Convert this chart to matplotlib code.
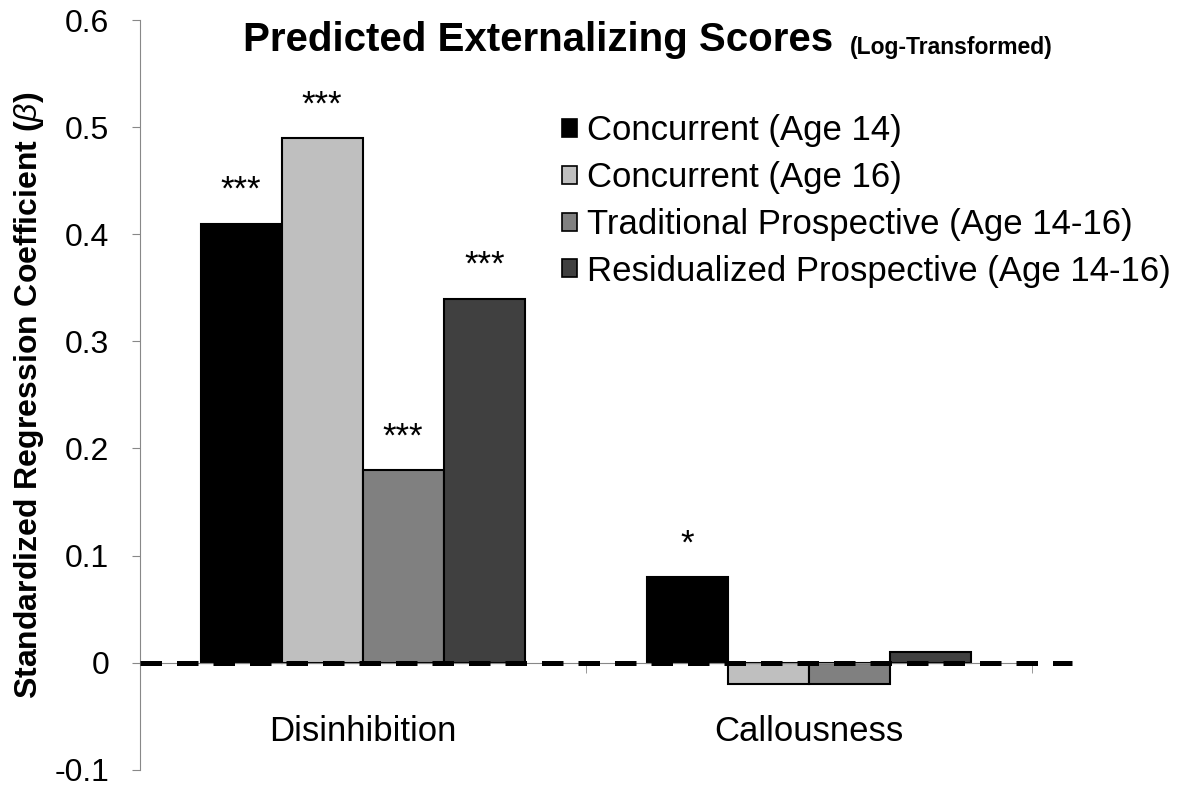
import matplotlib
matplotlib.use("Agg")
import matplotlib.pyplot as plt
import numpy as np
from matplotlib.patches import Patch

categories = ["Disinhibition", "Callousness"]
series_names = ["Concurrent (Age 14)", "Concurrent (Age 16)",
                "Traditional Prospective (Age 14-16)", "Residualized Prospective (Age 14-16)"]
concurrent_14 = [0.41, 0.08]
concurrent_16 = [0.49, -0.02]
traditional = [0.18, -0.02]
residualized = [0.34, 0.01]
stars_14 = ["***", "*"]
stars_16 = ["***", ""]
stars_trad = ["***", ""]
stars_resid = ["***", ""]
yticks = [-0.1, 0, 0.1, 0.2, 0.3, 0.4, 0.5, 0.6]
ytick_labels = ["-0.1", "0", "0.1", "0.2", "0.3", "0.4", "0.5", "0.6"]

colors = ["#000000", "#BFBFBF", "#808080", "#404040"]
values = [concurrent_14, concurrent_16, traditional, residualized]
stars = [stars_14, stars_16, stars_trad, stars_resid]

plt.rcParams['font.family'] = ['Liberation Sans', 'DejaVu Sans']
plt.rcParams['mathtext.fontset'] = 'custom'
plt.rcParams['mathtext.rm'] = 'Liberation Sans'
plt.rcParams['mathtext.it'] = 'Liberation Sans:italic'
plt.rcParams['mathtext.bf'] = 'Liberation Sans:bold'

fig = plt.figure(figsize=(11.83, 7.92), dpi=100)
ax = fig.add_axes([0.118, 0.028, 0.792, 0.9467])

x = np.arange(len(categories))
w = 0.1816
for i, (vals, c, st) in enumerate(zip(values, colors, stars)):
    pos = x + (i - 1.5) * w
    bars = ax.bar(pos, vals, width=w, color=c, edgecolor="black", linewidth=1.5,
                  label=series_names[i], zorder=2)
    for b, v, s in zip(bars, vals, st):
        if s:
            ax.annotate(s, xy=(b.get_x() + b.get_width() / 2, v), xytext=(0, 12),
                        textcoords="offset points", ha="center", va="bottom",
                        fontsize=25)

ax.set_xlim(-0.5, 1.6)
ax.set_ylim(-0.1, 0.6)
ax.set_yticks(yticks)
ax.set_yticklabels(ytick_labels, fontsize=23)
ax.tick_params(axis="y", direction="out", length=6, color="#888888", pad=16)

for s in ["top", "right"]:
    ax.spines[s].set_visible(False)
ax.spines["left"].set_color("#888888")
ax.spines["bottom"].set_position(("data", 0))
ax.spines["bottom"].set_bounds(-0.5, 1.5)
ax.spines["bottom"].set_color("#888888")

ax.set_xticks(x)
ax.set_xticklabels(categories, fontsize=25)
ax.tick_params(axis="x", length=0, pad=38)
ax.set_xticks([0.5, 1.5], minor=True)
ax.tick_params(axis="x", which="minor", direction="out", length=7, color="#888888")

ax.plot([-0.5, 1.59], [0, 0], color="black", lw=3.6, linestyle=(0, (4.3, 3.0)), zorder=3)

ax.set_ylabel(r"Standardized Regression Coefficient ($\it{\beta}$)", fontsize=23,
              fontweight="bold", labelpad=6)

handles = [Patch(facecolor=c, edgecolor="black", linewidth=1.2) for c in colors]
ax.legend(handles, series_names, loc="upper left", bbox_to_anchor=(0.436, 0.893),
          frameon=False, fontsize=25, handlelength=0.42, handleheight=0.42,
          handletextpad=0.3, labelspacing=0.40, borderaxespad=0)

t1 = fig.text(243 / 1183, 1 - 51 / 792, "Predicted Externalizing Scores", fontsize=29,
              fontweight="bold", ha="left", va="baseline")
ax.annotate("(Log-Transformed)", xy=(1, 0), xycoords=t1, xytext=(12, 0),
            textcoords="offset points", fontsize=16.5, fontweight="bold",
            ha="left", va="bottom")

fig.savefig("out.png", dpi=100)
